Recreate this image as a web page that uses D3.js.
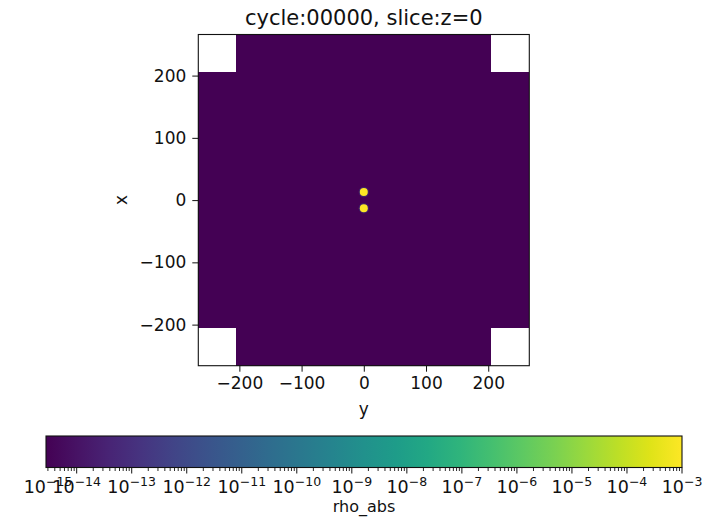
<!DOCTYPE html>
<html><head><meta charset="utf-8">
<script src="https://cdn.jsdelivr.net/npm/d3@7"></script>
<style>
html,body{margin:0;padding:0;background:#fff;}
svg{display:block;font-family:"DejaVu Sans",sans-serif;}
</style></head>
<body>
<svg id="chart" width="716" height="522"></svg>
<script>
// ---------- data ----------
const titleText = "cycle:00000, slice:z=0";
const xLabel = "y";           // horizontal axis
const yLabel = "x";           // vertical axis
const cbLabel = "rho_abs";
const axisExtent = [-266, 266];
const axisTicks = [-200, -100, 0, 100, 200];
// grid region (data present) : cross shape; corners beyond |205| in both are empty (NaN)
const cornerCut = 205;
const backgroundValue = 1e-20;          // below vmin -> clipped to lowest colour
const sourceX = [13, -13];              // vertical coordinate of the two blobs
const sourceY = [0, 0];                 // horizontal coordinate
const sourceValue = [1e-3, 1e-3];
const cbDomain = [2.77e-15, 1e-3];
const cbMajorExp = [-14, -13, -12, -11, -10, -9, -8, -7, -6, -5, -4, -3];
const cbEdgeLabelExp = -15;             // label drawn at lower edge of the bar

// ---------- layout ----------
const svg = d3.select("#chart");
const P = {l: 198.3, r: 529.3, t: 34.5, b: 365.7};
const xs = d3.scaleLinear().domain(axisExtent).range([P.l, P.r]);
const ys = d3.scaleLinear().domain(axisExtent).range([P.b, P.t]);
const cb = {l: 46, r: 682, t: 436, b: 467.5};
const cs = d3.scaleLog().domain(cbDomain).range([cb.l, cb.r]);
const color = v => d3.interpolateViridis(Math.max(0, Math.min(1, (Math.log10(v) - Math.log10(cbDomain[0])) / (Math.log10(cbDomain[1]) - Math.log10(cbDomain[0])))));

// ---------- heatmap region ----------
const cells = [
  {x0: axisExtent[0], x1: axisExtent[1], y0: -cornerCut, y1: cornerCut, v: backgroundValue},
  {x0: -cornerCut, x1: cornerCut, y0: axisExtent[0], y1: -cornerCut, v: backgroundValue},
  {x0: -cornerCut, x1: cornerCut, y0: cornerCut, y1: axisExtent[1], v: backgroundValue}
];
svg.append("g").selectAll("rect").data(cells).join("rect")
  .attr("x", d => xs(d.x0)).attr("y", d => ys(d.y1))
  .attr("width", d => xs(d.x1) - xs(d.x0)).attr("height", d => ys(d.y0) - ys(d.y1))
  .attr("fill", d => color(d.v)).attr("shape-rendering", "crispEdges");

const src = sourceX.map((v, i) => ({x: sourceY[i], y: v, v: sourceValue[i]}));
const sg = svg.append("g");
sg.selectAll("circle.halo").data(src).join("circle").attr("class", "halo")
  .attr("cx", d => xs(d.x)).attr("cy", d => ys(d.y)).attr("r", 5.2)
  .attr("fill", d3.interpolateViridis(0.25)).attr("opacity", 0.4);
sg.selectAll("circle.core").data(src).join("circle").attr("class", "core")
  .attr("cx", d => xs(d.x)).attr("cy", d => ys(d.y)).attr("r", 4)
  .attr("fill", d => color(d.v));

// ---------- axes ----------
const fs = 17;
const xAxis = d3.axisBottom(xs).tickValues(axisTicks).tickSize(6).tickPadding(5)
  .tickFormat(d => d3.format("d")(d).replace("-", "\u2212"));
const yAxis = d3.axisLeft(ys).tickValues(axisTicks).tickSize(6).tickPadding(6)
  .tickFormat(d => d3.format("d")(d).replace("-", "\u2212"));
const gx = svg.append("g").attr("transform", `translate(0,${P.b})`).call(xAxis);
const gy = svg.append("g").attr("transform", `translate(${P.l},0)`).call(yAxis);
[gx, gy].forEach(g => {
  g.select(".domain").remove();
  g.selectAll("text").attr("font-size", fs).attr("font-family", "DejaVu Sans").attr("fill", "#111");
  g.selectAll("line").attr("stroke", "#111").attr("stroke-width", 1);
});
svg.append("rect").attr("x", P.l).attr("y", P.t).attr("width", P.r - P.l).attr("height", P.b - P.t)
  .attr("fill", "none").attr("stroke", "#111").attr("stroke-width", 1.1);

svg.append("text").attr("x", (P.l + P.r) / 2).attr("y", 25).attr("text-anchor", "middle")
  .attr("font-size", 21).attr("fill", "#111").text(titleText);
svg.append("text").attr("x", (P.l + P.r) / 2).attr("y", 415).attr("text-anchor", "middle")
  .attr("font-size", fs).attr("fill", "#111").text(xLabel);
svg.append("text").attr("transform", "translate(127,200) rotate(-90)").attr("text-anchor", "middle")
  .attr("font-size", fs).attr("fill", "#111").text(yLabel);

// ---------- colorbar ----------
const grad = svg.append("defs").append("linearGradient").attr("id", "vir")
  .attr("x1", "0%").attr("x2", "100%").attr("y1", "0%").attr("y2", "0%");
d3.range(0, 1.0001, 0.05).forEach(t => grad.append("stop").attr("offset", (t * 100) + "%").attr("stop-color", d3.interpolateViridis(t)));
svg.append("rect").attr("x", cb.l).attr("y", cb.t).attr("width", cb.r - cb.l).attr("height", cb.b - cb.t)
  .attr("fill", "url(#vir)").attr("stroke", "#111").attr("stroke-width", 1.1);

const lo = Math.floor(Math.log10(cbDomain[0])), hi = Math.ceil(Math.log10(cbDomain[1]));
const minors = [];
for (let e = lo; e < hi; e++) for (let k = 2; k <= 9; k++) {
  const v = k * Math.pow(10, e);
  if (v >= cbDomain[0] && v <= cbDomain[1]) minors.push(v);
}
const cg = svg.append("g");
cg.selectAll("line.minor").data(minors).join("line").attr("class", "minor")
  .attr("x1", d => cs(d)).attr("x2", d => cs(d)).attr("y1", cb.b).attr("y2", cb.b + 3.5)
  .attr("stroke", "#111").attr("stroke-width", 0.9);
cg.selectAll("line.major").data(cbMajorExp).join("line").attr("class", "major")
  .attr("x1", d => cs(Math.pow(10, d))).attr("x2", d => cs(Math.pow(10, d))).attr("y1", cb.b).attr("y2", cb.b + 6)
  .attr("stroke", "#111").attr("stroke-width", 1);

const labels = [{e: cbEdgeLabelExp, x: cb.l + 2}].concat(cbMajorExp.map(e => ({e, x: cs(Math.pow(10, e))})));
const lt = cg.selectAll("text.cbl").data(labels).join("text").attr("class", "cbl")
  .attr("x", d => d.x).attr("y", 493).attr("text-anchor", "middle").attr("fill", "#111")
  .attr("font-size", 17.5);
lt.append("tspan").text("10");
lt.append("tspan").attr("font-size", 12.5).attr("dy", -7.5).text(d => "\u2212" + Math.abs(d.e));

svg.append("text").attr("x", (cb.l + cb.r) / 2).attr("y", 512).attr("text-anchor", "middle")
  .attr("font-size", 16).attr("fill", "#111").text(cbLabel);
</script>
</body></html>
